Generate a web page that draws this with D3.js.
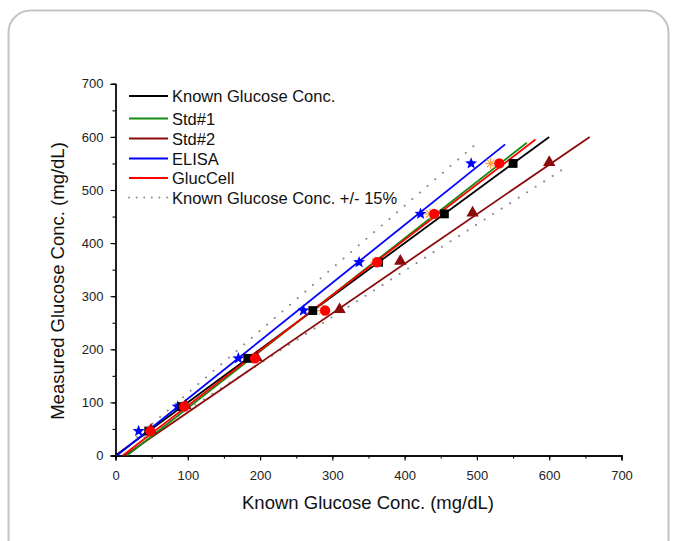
<!DOCTYPE html>
<html>
<head>
<meta charset="utf-8">
<script src="https://cdn.jsdelivr.net/npm/d3@7"></script>
<style>
  html, body { margin: 0; padding: 0; background: #fff; }
  svg { display: block; font-family: "Liberation Sans", Arial, sans-serif; }
</style>
</head>
<body>
<svg id="chart" width="681" height="541"></svg>
<script>
// ---------- data ----------
const measuredLevels = [46, 92, 183, 273, 364, 455, 550];   // y values (mg/dL)
const knownX    = [46, 92, 183, 273, 364, 455, 550];
const std1X     = [47, 94, 190, 287, 360, 435, 519];
const std2X     = [49, 97, 195, 310, 394, 494, 600];
const elisaX    = [32, 86, 170, 260, 337, 422, 492];
const glucX     = [48, 95, 193, 290, 362, 441, 531];

// fitted line end points [x, y]
const knownLine = [[0, 0], [600, 600]];
const std1Line  = [[16, 0], [569, 589]];
const std2Line  = [[13, 0], [656, 600]];
const elisaLine = [[2, 0], [539, 586]];
const glucLine  = [[10, 0], [581, 595]];
const upper15   = [[30, 35], [505, 594]];
const lower15   = [[40, 34], [627, 546]];

const xTicks = [0, 100, 200, 300, 400, 500, 600, 700];
const yTicks = [0, 100, 200, 300, 400, 500, 600, 700];
const minorTicks = d3.range(0, 701, 50);

const legendLabels = ["Known Glucose Conc.", "Std#1", "Std#2", "ELISA", "GlucCell", "Known Glucose Conc. +/- 15%"];

// ---------- setup ----------
const svg = d3.select("#chart");
const x = d3.scaleLinear().domain([0, 700]).range([115.5, 621.5]);
const y = d3.scaleLinear().domain([0, 700]).range([455.5, 83.8]);

// frame
svg.append("rect")
  .attr("x", 8.5).attr("y", 10.5).attr("width", 660).attr("height", 580)
  .attr("rx", 22).attr("ry", 22)
  .attr("fill", "none").attr("stroke", "#c4c4c4").attr("stroke-width", 2);

const colors = {
  known: "#000000", std1: "#138a13", std2: "#8b0a0a", elisa: "#0000ff", gluc: "#ff0000", dot: "#8a8a8a", ast: "#ffa040"
};

// ---------- axes ----------
const xAxisMinor = d3.axisBottom(x).tickValues(minorTicks).tickSize(3).tickFormat("");
const xAxis = d3.axisBottom(x).tickValues(xTicks).tickSize(5).tickPadding(10).tickFormat(d3.format("d"));
const yAxisMinor = d3.axisLeft(y).tickValues(minorTicks).tickSize(3).tickFormat("");
const yAxis = d3.axisLeft(y).tickValues(yTicks).tickSize(5).tickPadding(7).tickFormat(d3.format("d"));

function styleAxis(g) {
  g.selectAll("path.domain").attr("stroke", "#000").attr("stroke-width", 1.3);
  g.selectAll(".tick line").attr("stroke", "#000").attr("stroke-width", 1.1);
  g.selectAll(".tick text").attr("fill", "#222").style("font-size", "13px")
    .style("font-family", '"Liberation Sans", Arial, sans-serif');
}
svg.append("g").attr("transform", `translate(0,${y(0)})`).call(xAxisMinor).call(styleAxis);
svg.append("g").attr("transform", `translate(0,${y(0)})`).call(xAxis).call(styleAxis);
svg.append("g").attr("transform", `translate(${x(0)},0)`).call(yAxisMinor).call(styleAxis);
svg.append("g").attr("transform", `translate(${x(0)},0)`).call(yAxis).call(styleAxis);

// titles
svg.append("text").attr("x", 368).attr("y", 509).attr("text-anchor", "middle")
  .style("font-size", "18.5px").attr("fill", "#111").text("Known Glucose Conc. (mg/dL)");
svg.append("text").attr("transform", "translate(64,281) rotate(-90)").attr("text-anchor", "middle")
  .style("font-size", "18.5px").attr("fill", "#111").text("Measured Glucose Conc. (mg/dL)");

// ---------- lines ----------
const line = d3.line().x(d => x(d[0])).y(d => y(d[1]));
function dotted(data) {
  svg.append("path").datum(data).attr("d", line).attr("fill", "none")
    .attr("stroke", colors.dot).attr("stroke-width", 2)
    .attr("stroke-linecap", "round").attr("stroke-dasharray", "0.1,10");
}
dotted(upper15);
dotted(lower15);
[[std2Line, colors.std2], [knownLine, colors.known], [std1Line, colors.std1], [glucLine, colors.gluc], [elisaLine, colors.elisa]]
  .forEach(([d, c]) => {
    svg.append("path").datum(d).attr("d", line).attr("fill", "none")
      .attr("stroke", c).attr("stroke-width", 1.8);
  });

// ---------- markers ----------
function pts(xs) { return xs.map((v, i) => [v, measuredLevels[i]]); }

function starPath(R, r) {
  let p = "";
  for (let i = 0; i < 10; i++) {
    const a = -Math.PI / 2 + i * Math.PI / 5;
    const rad = i % 2 === 0 ? R : r;
    p += (i === 0 ? "M" : "L") + (rad * Math.cos(a)).toFixed(2) + "," + (rad * Math.sin(a)).toFixed(2);
  }
  return p + "Z";
}
function asteriskPath(R) {
  let p = "";
  for (let i = 0; i < 4; i++) {
    const a = i * Math.PI / 4;
    p += `M${(-R * Math.cos(a)).toFixed(2)},${(-R * Math.sin(a)).toFixed(2)}L${(R * Math.cos(a)).toFixed(2)},${(R * Math.sin(a)).toFixed(2)}`;
  }
  return p;
}

// ELISA stars
svg.append("g").selectAll("path").data(pts(elisaX)).join("path")
  .attr("transform", d => `translate(${x(d[0])},${y(d[1])})`)
  .attr("d", starPath(6.3, 2.7)).attr("fill", colors.elisa);

// Std#1 asterisks
svg.append("g").selectAll("path").data(pts(std1X)).join("path")
  .attr("transform", d => `translate(${x(d[0])},${y(d[1])})`)
  .attr("d", asteriskPath(5.5)).attr("fill", "none").attr("stroke", colors.ast).attr("stroke-width", 1.2);

// Std#2 triangles
svg.append("g").selectAll("path").data(pts(std2X)).join("path")
  .attr("transform", d => `translate(${x(d[0])},${y(d[1]) - 1})`)
  .attr("d", d3.symbol().type(d3.symbolTriangle).size(66)()).attr("fill", colors.std2);

// Known squares
svg.append("g").selectAll("path").data(pts(knownX)).join("path")
  .attr("transform", d => `translate(${x(d[0])},${y(d[1])})`)
  .attr("d", d3.symbol().type(d3.symbolSquare).size(78)()).attr("fill", colors.known);

// GlucCell circles
svg.append("g").selectAll("path").data(pts(glucX)).join("path")
  .attr("transform", d => `translate(${x(d[0])},${y(d[1])})`)
  .attr("d", d3.symbol().type(d3.symbolCircle).size(84)()).attr("fill", colors.gluc);

// ---------- legend ----------
const legendColors = [colors.known, colors.std1, colors.std2, colors.elisa, colors.gluc, colors.dot];
const legendY = [96, 118.5, 138.5, 158.5, 178, 197.5];
const lg = svg.append("g");
legendLabels.forEach((lab, i) => {
  const ly = legendY[i];
  const ln = lg.append("line").attr("x1", 129).attr("x2", 168).attr("y1", ly).attr("y2", ly)
    .attr("stroke", legendColors[i]);
  if (i === 5) {
    ln.attr("stroke-width", 1.8).attr("stroke-linecap", "round").attr("stroke-dasharray", "0.1,7.5");
  } else {
    ln.attr("stroke-width", 1.8);
  }
  lg.append("text").attr("x", 172).attr("y", ly + 6).style("font-size", "16.5px")
    .attr("fill", "#111").text(lab);
});
</script>
</body>
</html>
